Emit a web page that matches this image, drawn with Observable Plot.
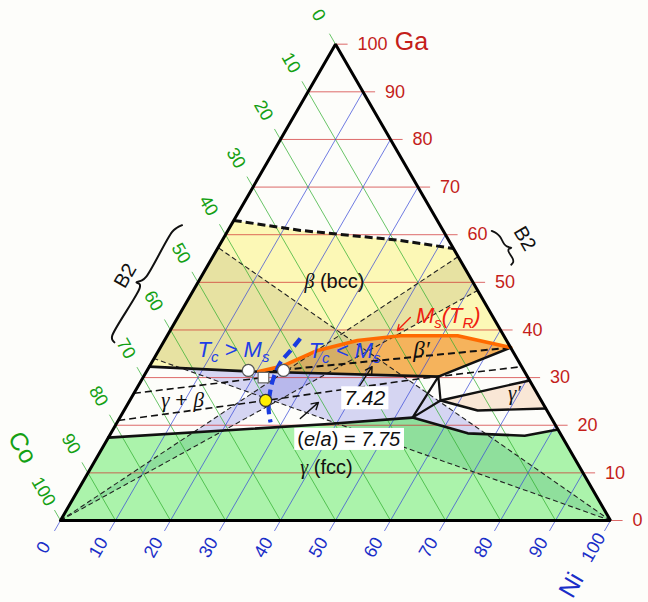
<!DOCTYPE html>
<html><head><meta charset="utf-8">
<script src="https://cdn.jsdelivr.net/npm/d3@7"></script>
<script src="https://cdn.jsdelivr.net/npm/@observablehq/plot@0.6"></script>
<style>html,body{margin:0;padding:0;background:#fdfdfa;}</style>
</head><body><div id="chart"></div>
<script>
// ---- data: compositions as [Ni at.%, Ga at.%] (Co = 100 - Ni - Ga) ----
const gaTicks = [0,10,20,30,40,50,60,70,80,90,100];
const coTicks = [0,10,20,30,40,50,60,70,80,90,100];
const niTicks = [0,10,20,30,40,50,60,70,80,90,100];

const betaTop       = [[0,63],[13.2,60.9],[32.4,58.8],[42.9,57.1]];
const betaBoundary  = [[0,32.3],[18.5,31.3],[53.6,30.2],[63.7,36.3]];
const gammaBoundary = [[0,17.4],[37.9,20.2],[53.2,21.6],[64.9,18.3],[75.5,17.8],[80.9,19.1]];
const msLine        = [[20.4,31.3],[24.3,32.5],[28.9,35.7],[35.1,37.8],[42.4,38.8],[52.8,38.8],[63.7,36.3]];
const betaPrimeTie  = [[21,31.2],[63.7,36.3]];
const tieLine1      = [[0,26.7],[21.9,30.0]];
const tieLine2      = [[0,21],[24.7,25.2],[50.6,29.8],[67.7,32.3]];
const threePhase    = [[53.2,21.6],[53.6,30.2],[56.5,25.2],[53.2,21.6]];
const gpUpper       = [[56.5,25.2],[70.6,29.4]];
const gpLower       = [[56.5,25.2],[64.3,23.1],[76.5,23.5]];
const curieLine     = [[24.5,38.2],[24.0,35.7],[23.4,33.2],[23.8,29.8],[24.9,26.2],[26.3,23.1],[27.9,20.6]];
const coBand        = [[0,0],[44.6,55.4],[51.7,48.3]];
const niBand        = [[100,0],[0,57.3],[0,34.0]];
const openCircles   = [[18.4,31.5],[24.8,31.5]];
const openSquares   = [[21.9,30.0]];
const yellowPoints  = [[24.7,25.2]];
const blackArrows   = [[[40.2,27.3],[40.5,32.3]],[[32.9,21.4],[34.5,24.8]]];
const redArrows     = [[[42.3,42.6],[41.3,39.9]]];
const leftBrace     = [[-8.9,62.0],[-9.6,61.4],[-10,60.6],[-10,51.2],[-10.4,50.4],[-11.2,50.0],[-10.4,49.6],[-10,48.8],[-10,38.8],[-9.6,38.0],[-8.9,37.4]];
const rightBraceCoGa= [[-8.8,60.8],[-9.4,60.3],[-9.7,59.6],[-9.7,58.0],[-10.0,57.5],[-10.6,57.25],[-10.0,57.0],[-9.7,56.5],[-9.7,54.9],[-9.4,54.2],[-8.8,53.7]];

// ---- helpers ----
const S3 = Math.sqrt(3)/2;
const H = 100*S3;
const xy = ([ni, ga]) => ({x: ni + ga/2, y: ga*S3});
const SANS = "Liberation Sans, Arial, Helvetica, sans-serif";
const SERIF = "Liberation Serif, Times New Roman, serif";
const TICK = 2.2;
const gaColor = "#c41e1a", coColor = "#14a014", niColor = "#1a2ec8";

function cross(a, b) { return a.x*b.y - a.y*b.x; }
function clip(subject, clipPoly) {
  let area = 0;
  for (let i = 0; i < clipPoly.length; i++) area += cross(clipPoly[i], clipPoly[(i+1)%clipPoly.length]);
  const s = Math.sign(area);
  let out = subject;
  for (let i = 0; i < clipPoly.length; i++) {
    const a = clipPoly[i], b = clipPoly[(i+1)%clipPoly.length];
    const d = {x: b.x-a.x, y: b.y-a.y};
    const inside = p => s*cross(d, {x:p.x-a.x, y:p.y-a.y}) >= 0;
    const inter = (p, q) => {
      const t = -cross(d, {x:p.x-a.x, y:p.y-a.y}) / cross(d, {x:q.x-p.x, y:q.y-p.y});
      return {x: p.x + t*(q.x-p.x), y: p.y + t*(q.y-p.y)};
    };
    const inp = out; out = [];
    for (let j = 0; j < inp.length; j++) {
      const cur = inp[j], prev = inp[(j+inp.length-1)%inp.length];
      if (inside(cur)) { if (!inside(prev)) out.push(inter(prev, cur)); out.push(cur); }
      else if (inside(prev)) out.push(inter(prev, cur));
    }
    if (!out.length) break;
  }
  return out;
}
const P = arr => arr.map(xy);
function polys(list, opts) {
  const data = list.flatMap((p, i) => p.map(q => ({...q, id: i})));
  return Plot.line(data, {x: "x", y: "y", z: "id", curve: "linear-closed", stroke: "none", ...opts});
}
function path(arr, opts) {
  return Plot.line(P(arr), {x: "x", y: "y", ...opts});
}
function label(str, pt, o = {}) {
  return Plot.text([xy(pt)], {x: "x", y: "y", text: () => str, fontFamily: SANS, ...o});
}

// regions
const betaRegion = P([...betaTop, ...betaBoundary.slice().reverse()]);
const betaPrimeRegion = P([...msLine, betaBoundary[2]]);
const gammaRegion = P([[0,0],[100,0], ...gammaBoundary.slice().reverse()]);
const twoPhaseRegion = P([...gammaBoundary, ...betaBoundary.slice().reverse()]);
const gammaPrimeRegion = P([gpUpper[0], gpUpper[1], gpLower[2], gpLower[1]]);
const bands = [P(coBand), P(niBand)];
const bandLines = [[coBand[0], coBand[1]], [coBand[0], coBand[2]], [niBand[0], niBand[1]], [niBand[0], niBand[2]]];

const gaGrid = gaTicks.map(g => ({a: xy([0,g]), b: xy([100-g+TICK, g])}));
const coGrid = coTicks.map(c => ({a: xy([-TICK, 100-c+TICK]), b: xy([100-c, 0])}));
const niGrid = niTicks.map(n => ({a: xy([n, -TICK]), b: xy([n, 100-n])}));
const link = (data, stroke) => Plot.link(data, {x1: d => d.a.x, y1: d => d.a.y, x2: d => d.b.x, y2: d => d.b.y, stroke, strokeWidth: 0.9, strokeOpacity: 0.8});

const rightBrace = rightBraceCoGa.map(([co, ga]) => [100 - ga - co, ga]);
const arrowMark = (list, stroke) => Plot.arrow(list.map(([a,b]) => ({a: xy(a), b: xy(b)})),
  {x1: d => d.a.x, y1: d => d.a.y, x2: d => d.b.x, y2: d => d.b.y, stroke, strokeWidth: 1.4, headLength: 8});

const plot = Plot.plot({
  width: 648, height: 602,
  marginLeft: 60, marginRight: 38, marginBottom: 82, marginTop: 602 - 82 - H*5.5,
  x: {domain: [0,100], axis: null},
  y: {domain: [0,H], axis: null},
  style: {background: "#fdfdfa", fontFamily: SANS, overflow: "visible"},
  marks: [
    polys([betaRegion], {fill: "#fcf8b6"}),
    polys([betaPrimeRegion], {fill: "#f5b35c"}),
    polys([gammaRegion], {fill: "#abf3ab"}),
    polys(bands.map(b => clip(betaRegion, b)), {fill: "#b0a870", fillOpacity: 0.28}),
    polys(bands.map(b => clip(twoPhaseRegion, b)), {fill: "#7070e0", fillOpacity: 0.28}),
    polys(bands.map(b => clip(gammaRegion, b)), {fill: "#2f9a6a", fillOpacity: 0.22}),
    polys([gammaPrimeRegion], {fill: "#f9e7d6"}),
    link(gaGrid, "#d03030"),
    link(coGrid, "#2eae2e"),
    link(niGrid, "#3848d8"),
    ...bandLines.map(l => path(l, {stroke: "#222", strokeWidth: 1.1, strokeDasharray: "5,3", strokeLinecap: "butt"})),
    path(tieLine1, {stroke: "#111", strokeWidth: 1.6, strokeDasharray: "7,4", strokeLinecap: "butt"}),
    path(tieLine2, {stroke: "#111", strokeWidth: 1.6, strokeDasharray: "7,4", strokeLinecap: "butt"}),
    path(betaPrimeTie, {stroke: "#111", strokeWidth: 2, strokeDasharray: "7,4", strokeLinecap: "butt"}),
    path(betaTop, {stroke: "#111", strokeWidth: 3, strokeDasharray: "8,4", strokeLinecap: "butt"}),
    path(gammaBoundary, {stroke: "#111", strokeWidth: 2.6}),
    path(betaBoundary, {stroke: "#111", strokeWidth: 2.6}),
    path(threePhase, {stroke: "#111", strokeWidth: 2.2}),
    path(gpUpper, {stroke: "#111", strokeWidth: 2.4}),
    path(gpLower, {stroke: "#111", strokeWidth: 2.4}),
    path(msLine, {stroke: "#ff6a00", strokeWidth: 3.6}),
    path([[0,0],[100,0],[0,100],[0,0]], {stroke: "#000", strokeWidth: 3, strokeLinejoin: "miter"}),
    path(curieLine, {stroke: "#1a3ce0", strokeWidth: 4.2, strokeDasharray: "10,5", strokeLinecap: "butt", curve: "catmull-rom"}),
    path(leftBrace, {stroke: "#111", strokeWidth: 2, curve: "catmull-rom"}),
    path(rightBrace, {stroke: "#111", strokeWidth: 1.8, curve: "catmull-rom"}),
    arrowMark(blackArrows, "#111"),
    arrowMark(redArrows, "#f02010"),
    Plot.dot(P(openCircles), {x: "x", y: "y", r: 6, fill: "white", stroke: "#555", strokeWidth: 1.2}),
    Plot.dot(P(openSquares), {x: "x", y: "y", r: 6, symbol: "square", fill: "white", stroke: "#666", strokeWidth: 1.2}),
    Plot.dot(P(yellowPoints), {x: "x", y: "y", r: 6, fill: "#ffee00", stroke: "#333", strokeWidth: 1.2}),
    // tick labels
    Plot.text(gaTicks, {x: g => xy([100-g,g]).x, y: g => xy([100-g,g]).y, text: g => String(g), dx: 22, textAnchor: "start", fill: gaColor, fontSize: 18}),
    Plot.text(coTicks, {x: c => xy([0,100-c]).x, y: c => xy([0,100-c]).y, text: c => String(c), dx: -17, dy: -29, rotate: 60, fill: coColor, fontSize: 18}),
    Plot.text(niTicks, {x: n => xy([n,0]).x, y: n => xy([n,0]).y, text: n => String(n), dx: -17, dy: 27, rotate: -60, fill: niColor, fontSize: 18}),
    // axis titles
    label("Ga", [13.6,100.4], {fill: gaColor, fontSize: 25}),
    label("Co", [-14.6,15.3], {fill: coColor, fontSize: 25, rotate: 60}),
    label("Ni", [99.7,-13.6], {fill: niColor, fontSize: 25, rotate: -60}),
    label("B2", [-13.9,51.4], {fill: "#111", fontSize: 20, rotate: -60}),
    label("B2", [54.8,59.2], {fill: "#111", fontSize: 20, rotate: 60}),
    // phase labels
    label("{β} (bcc)", [24.7,50.2], {fill: "#111", fontSize: 20}),
    label("{β′}", [47.7,35.9], {fill: "#111", fontSize: 23}),
    label("{γ} + {β}", [9.6,25.2], {fill: "#111", fontSize: 21}),
    label("{γ′}", [69.2,26.7], {fill: "#111", fontSize: 21}),
    label("*7.42*", [42.5,25.6], {fill: "#111", fontSize: 21}),
    label("(*e*/*a*) = *7.75*", [43.9,17.0], {fill: "#111", fontSize: 20}),
    label("{γ} (fcc)", [42.8,11.1], {fill: "#111", fontSize: 20}),
    label("T_c > M_s", [13.5,35.9], {fill: "#1f3fe6", fontSize: 22, fontStyle: "italic"}),
    label("T_c < M_s", [33.8,35.7], {fill: "#1f3fe6", fontSize: 22, fontStyle: "italic"}),
    label("M_s(T_R)", [49.0,43.0], {fill: "#f02010", fontSize: 22, fontStyle: "italic"})
  ]
});
document.getElementById("chart").appendChild(plot);

// rich-text markup: {..} serif italic, *..* italic, _x subscript
const NS = "http://www.w3.org/2000/svg";
plot.querySelectorAll("text").forEach(t => {
  const s = t.textContent;
  t.setAttribute("data-raw", s);
  if (!/[{*_]/.test(s)) return;
  const fs = parseFloat(getComputedStyle(t).fontSize) || 12;
  t.textContent = "";
  const re = /\{([^}]*)\}|\*([^*]*)\*|_(.)|([^{*_]+)/g;
  let m, shift = 0;
  while ((m = re.exec(s))) {
    const ts = document.createElementNS(NS, "tspan");
    if (m[3] != null) {
      ts.textContent = m[3];
      ts.setAttribute("font-size", fs*0.68);
      const sh = fs*0.26 - shift; ts.setAttribute("dy", sh); shift = fs*0.26;
      t.appendChild(ts); continue;
    }
    if (m[1] != null) { ts.textContent = m[1]; ts.setAttribute("font-family", SERIF); ts.setAttribute("font-style", "italic"); }
    else if (m[2] != null) { ts.textContent = m[2]; ts.setAttribute("font-style", "italic"); }
    else ts.textContent = m[4];
    if (shift) { ts.setAttribute("dy", -shift); shift = 0; }
    t.appendChild(ts);
  }
});
// white boxes behind numeric e/a labels
const boxed = new Set(["*7.42*", "(*e*/*a*) = *7.75*"]);
plot.querySelectorAll("text").forEach(t => {
  if (!boxed.has(t.getAttribute("data-raw"))) return;
  const bb = t.getBBox();
  const r = document.createElementNS(NS, "rect");
  r.setAttribute("x", bb.x - 3); r.setAttribute("y", bb.y);
  r.setAttribute("width", bb.width + 6); r.setAttribute("height", bb.height);
  r.setAttribute("fill", "white");
  if (t.getAttribute("transform")) r.setAttribute("transform", t.getAttribute("transform"));
  t.parentNode.insertBefore(r, t);
});
</script></body></html>
